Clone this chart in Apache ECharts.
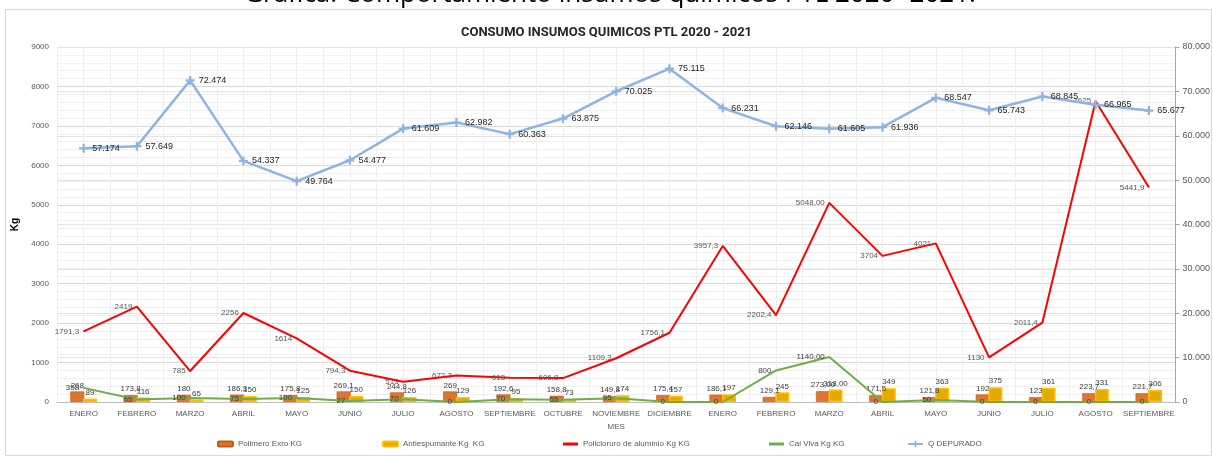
<!DOCTYPE html>
<html lang="es">
<head>
<meta charset="UTF-8" />
<title>Consumo insumos quimicos PTL</title>
<script src="https://cdn.jsdelivr.net/npm/echarts@6/dist/echarts.min.js"></script>
<style>
  html, body { margin: 0; padding: 0; background: #fff; }
  #main { width: 1213px; height: 457px; }
</style>
</head>
<body>
<div id="main"></div>
<script type="text/javascript">
// datos (2020 ENERO .. 2021 SEPTIEMBRE)
var meses = ['ENERO', 'FEBRERO', 'MARZO', 'ABRIL', 'MAYO', 'JUNIO', 'JULIO', 'AGOSTO', 'SEPTIEMBRE', 'OCTUBRE', 'NOVIEMBRE', 'DICIEMBRE',
             'ENERO', 'FEBRERO', 'MARZO', 'ABRIL', 'MAYO', 'JUNIO', 'JULIO', 'AGOSTO', 'SEPTIEMBRE'];
var polimero = [268, 173.8, 180, 186.3, 175.8, 269.1, 244.8, 269, 192.6, 158.8, 149.8, 175.4,
                186.1, 129.1, 273, 171.5, 121.8, 192, 123, 223.7, 221.7];
var antiespumante = [89, 116, 65, 150, 125, 150, 126, 129, 95, 73, 174, 157,
                     197, 245, 318, 349, 363, 375, 361, 331, 306];
var policloruro = [1791.3, 2419, 785, 2256, 1614, 794.3, 513, 672.7, 613, 606.8, 1109.3, 1756.1,
                   3957.3, 2202.4, 5048, 3704, 4021, 1130, 2011.4, 7625, 5441.9];
var calViva = [358, 65, 100, 75, 100, 27, 70, 0, 70, 55, 95, 0,
               0, 800, 1140, 0, 50, 0, 0, 0, 0];
var qDepurado = [57174, 57649, 72474, 54337, 49764, 54477, 61609, 62982, 60363, 63875, 70025, 75115,
                 66231, 62146, 61605, 61936, 68547, 65743, 68845, 66965, 65677];

// en el original MARZO 2021 sale con dos decimales
function coma(p) {
    var v = p.value;
    if (p.dataIndex === 14) return v.toFixed(2).replace('.', ',');
    return String(v).replace('.', ',');
}
function miles(v) {
    return String(v).replace(/\B(?=(\d{3})+(?!\d))/g, '.');
}

var medios = [];
for (var i = 0; i < meses.length * 2; i++) medios.push('');

var lbl = { fontSize: 8, color: '#595959', fontFamily: 'Liberation Sans' };
var invisible = { symbol: 'circle', symbolSize: 1, showSymbol: true };

var myChart = echarts.init(document.getElementById('main'));
var option = {
    backgroundColor: '#fff',
    animation: false,
    textStyle: { fontFamily: 'Liberation Sans' },
    graphic: [
        { type: 'rect', shape: { x: 5.5, y: 9.5, width: 1206, height: 446 }, style: { fill: 'none', stroke: '#d9d9d9', lineWidth: 1 }, z: -1 },
        { type: 'text', x: 610, y: -18, style: { text: 'Grafica: Comportamiento insumos quimicos PTL 2020 -2021.', font: '26px "Open Sans"', fill: '#000', align: 'center' } }
    ],
    title: {
        text: 'CONSUMO INSUMOS QUIMICOS PTL 2020 - 2021',
        left: 'center',
        top: 21,
        textStyle: { fontSize: 13, fontWeight: 'bold', color: '#262626', fontFamily: 'Roboto' }
    },
    legend: [
        { left: 212, top: 435, itemWidth: 15, itemHeight: 5, textStyle: lbl, data: ['Polimero Exro KG'] },
        { left: 377, top: 435, itemWidth: 15, itemHeight: 5, textStyle: lbl, data: ['Antiespumante Kg  KG'] },
        { left: 558, top: 435, itemWidth: 15, itemHeight: 3, textStyle: lbl, data: [{ name: 'Policloruro de aluminio Kg KG', icon: 'rect' }] },
        { left: 764, top: 435, itemWidth: 15, itemHeight: 3, textStyle: lbl, data: [{ name: 'Cal Viva Kg KG', icon: 'rect' }] },
        { left: 902, top: 435, itemWidth: 15, itemHeight: 8, textStyle: lbl, data: ['Q DEPURADO'] }
    ],
    grid: { left: 57, right: 33, top: 47, bottom: 55 },
    xAxis: [
        {
            type: 'category',
            data: meses,
            name: 'MES',
            nameLocation: 'middle',
            nameGap: 19,
            nameTextStyle: { fontSize: 8, color: '#595959' },
            axisLine: { lineStyle: { color: '#bfbfbf' } },
            axisTick: { show: false },
            axisLabel: { fontSize: 8, color: '#595959', interval: 0, margin: 8 },
            splitLine: { show: true, lineStyle: { color: '#d9d9d9' } }
        },
        {
            type: 'category',
            data: medios,
            position: 'bottom',
            axisLine: { show: false },
            axisTick: { show: false },
            axisLabel: { show: false },
            splitLine: { show: true, interval: 0, lineStyle: { color: '#efefef' } }
        }
    ],
    yAxis: [
        {
            type: 'value',
            min: 0, max: 9000, interval: 1000,
            name: 'Kg',
            nameLocation: 'middle',
            nameGap: 30,
            nameTextStyle: { fontSize: 10, fontWeight: 'bold', color: '#000' },
            axisLine: { show: false },
            axisTick: { show: false },
            axisLabel: { fontSize: 8, color: '#595959', margin: 8, formatter: function (v) { return String(v); } },
            splitLine: { lineStyle: { color: '#d9d9d9' } },
            minorSplitLine: { show: true, lineStyle: { color: '#f0f0f0' } },
            minorTick: { show: false, splitNumber: 5 }
        },
        {
            type: 'value',
            position: 'right',
            min: 0, max: 80000, interval: 10000,
            axisLine: { show: true, lineStyle: { color: '#a6a6a6' } },
            axisTick: { show: true, length: 4, lineStyle: { color: '#a6a6a6' } },
            axisLabel: { fontSize: 9, color: '#595959', margin: 7, formatter: miles },
            splitLine: { lineStyle: { color: '#e3e3e3' } }
        }
    ],
    series: [
        {
            name: 'Polimero Exro KG',
            type: 'bar',
            data: polimero,
            barWidth: 14,
            barGap: '-10%',
            itemStyle: { color: '#DD7430', borderColor: '#C55A11', borderWidth: 0.6 },
            label: { show: true, position: 'top', distance: 2, formatter: coma, fontSize: 8, color: '#404040' }
        },
        {
            name: 'Antiespumante Kg  KG',
            type: 'bar',
            data: antiespumante,
            barWidth: 14,
            itemStyle: { color: '#E3AA00', borderColor: '#FFC000', borderWidth: 1.5 },
            label: { show: true, position: 'top', distance: 2, formatter: coma, fontSize: 8, color: '#404040' }
        },
        {
            name: 'Policloruro de aluminio Kg KG',
            type: 'line',
            data: policloruro,
            symbol: invisible.symbol,
            symbolSize: invisible.symbolSize,
            showSymbol: true,
            lineStyle: { color: '#FF0000', width: 2 },
            itemStyle: { color: '#FF0000' },
            label: { show: true, position: 'left', distance: 4, formatter: coma, fontSize: 8, color: '#595959' },
            z: 3
        },
        {
            name: 'Cal Viva Kg KG',
            type: 'line',
            data: calViva,
            symbol: invisible.symbol,
            symbolSize: invisible.symbolSize,
            showSymbol: true,
            lineStyle: { color: '#70AD47', width: 2 },
            itemStyle: { color: '#70AD47' },
            label: { show: true, position: 'left', distance: 4, formatter: coma, fontSize: 8, color: '#404040' },
            z: 3
        },
        {
            name: 'Q DEPURADO',
            type: 'line',
            yAxisIndex: 1,
            data: qDepurado,
            symbol: 'path://M3,0h2v3h3v2h-3v3h-2v-3h-3v-2h3z',
            symbolSize: 9,
            lineStyle: { color: '#8EB4E3', width: 2.5 },
            itemStyle: { color: '#8EB4E3' },
            label: { show: true, position: 'right', distance: 4, fontSize: 9, color: '#262626', formatter: function (p) { return miles(p.value); } },
            z: 4
        }
    ]
};
myChart.setOption(option);
</script>
</body>
</html>
